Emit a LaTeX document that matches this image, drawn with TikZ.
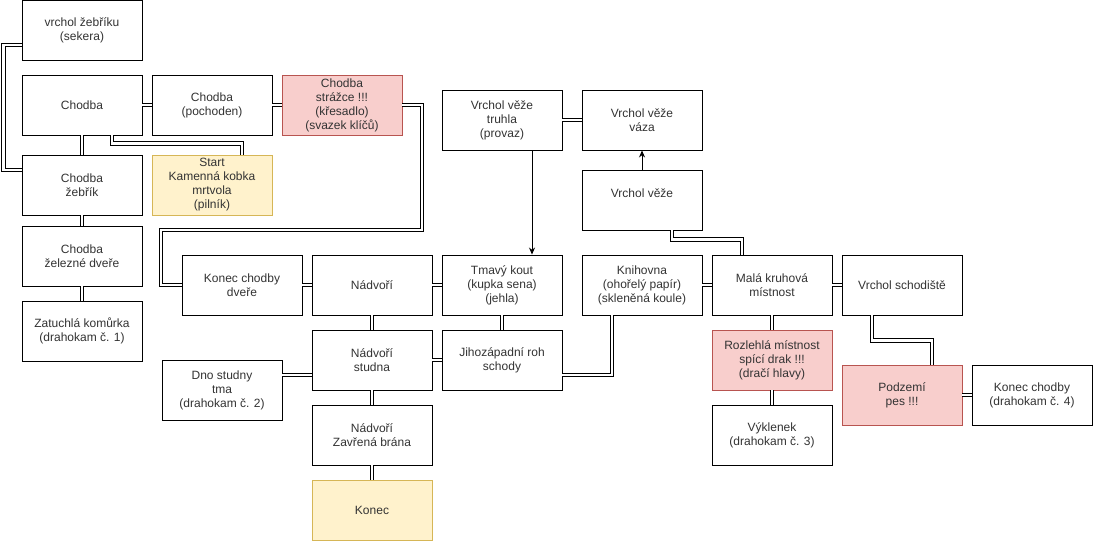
\documentclass[tikz,border=0pt]{standalone}
\usepackage{fontspec}
\setmainfont{Liberation Sans}
\usetikzlibrary{arrows.meta}
\definecolor{textgray}{HTML}{333333}
\definecolor{redfill}{HTML}{F8CECC}
\definecolor{redline}{HTML}{B85450}
\definecolor{yellowfill}{HTML}{FFF2CC}
\definecolor{yellowline}{HTML}{D6B656}

\begin{document}
\begin{tikzpicture}[x=1pt,y=-1pt,
	room/.style={draw, fill=white, line width=0.9pt, minimum width=120pt, minimum height=60pt,
		inner sep=0pt, align=center, text=textgray, font=\fontsize{12}{14}\selectfont},
	danger/.style={room, fill=redfill, draw=redline},
	special/.style={room, fill=yellowfill, draw=yellowline},
	link/.style={double, double distance=2.6pt, line width=0.9pt},
	oneway/.style={line width=0.9pt, -{Stealth[length=7pt,width=6pt]}}]
	\useasboundingbox (0,0) rectangle (1093,541);

	% levy sloupec
	\node[room] (vrchol) at (82,30) {vrchol žebříku\\(sekera)};
	\node[room] (chodba) at (82,105) {Chodba};
	\node[room] (zebrik) at (82,185) {Chodba\\žebřík};
	\node[room] (dvere) at (82,256) {Chodba\\železné dveře};
	\node[room] (komurka) at (82,331) {Zatuchlá komůrka\\(drahokam č. 1)};
	\node[room] (pochoden) at (212,105) {Chodba\\(pochoden)};
	\node[danger] (strazce) at (342,105) {Chodba\\strážce !!!\\(křesadlo)\\(svazek klíčů)};
	\node[special] (start) at (212,185) {Start\\Kamenná kobka\\mrtvola\\(pilník)};

	% nadvori
	\node[room] (konecdvere) at (242,285) {Konec chodby\\dveře};
	\node[room] (nadvori) at (372,285) {Nádvoří};
	\node[room] (studna) at (372,360) {Nádvoří\\studna};
	\node[room] (dno) at (222,390) {Dno studny\\tma\\(drahokam č. 2)};
	\node[room] (brana) at (372,435) {Nádvoří\\Zavřená brána};
	\node[special] (konec) at (372,510) {Konec};
	\node[room] (kout) at (502,285) {Tmavý kout\\(kupka sena)\\(jehla)};
	\node[room] (roh) at (502,360) {Jihozápadní roh\\schody};

	% vez
	\node[room] (truhla) at (502,120) {Vrchol věže\\truhla\\(provaz)};
	\node[room] (vaza) at (642,120) {Vrchol věže\\váza};
	\node[room] (vez) at (642,200) {Vrchol věže\\\mbox{}};
	\node[room] (knihovna) at (642,285) {Knihovna\\(ohořelý papír)\\(skleněná koule)};
	\node[room] (mala) at (772,285) {Malá kruhová\\místnost};
	\node[room] (schodiste) at (902,285) {Vrchol schodiště};
	\node[danger] (drak) at (772,360) {Rozlehlá místnost\\spící drak !!!\\(dračí hlavy)};
	\node[room] (vyklenek) at (772,435) {Výklenek\\(drahokam č. 3)};
	\node[danger] (podzemi) at (902,395) {Podzemí\\pes !!!};
	\node[room] (konec4) at (1032,395) {Konec chodby\\(drahokam č. 4)};

	\draw[link] ([yshift=-15pt]vrchol.west) -- ++(-18,0) |- ([yshift=15pt]zebrik.west);
	\draw[link] (chodba) -- (pochoden);
	\draw[link] (pochoden) -- (strazce);
	\draw[link] (chodba) -- (zebrik);
	\draw[link] ([xshift=30pt]chodba.south) -- ++(0,8) -| ([xshift=30pt]start.north);
	\draw[link] (zebrik) -- (dvere);
	\draw[link] (dvere) -- (komurka);
	\draw[link] (strazce.east) -| (422,230) -| (161,285) -- (konecdvere.west);

	\draw[link] (konecdvere) -- (nadvori);
	\draw[link] (nadvori) -- (kout);
	\draw[link] (nadvori) -- (studna);
	\draw[link] ([yshift=-15pt]studna.west) -- ([yshift=-15pt]studna.west -| dno.east);
	\draw[link] (studna) -- (brana);
	\draw[link] (brana) -- (konec);
	\draw[link] (studna) -- (roh);
	\draw[link] (kout) -- (roh);
	\draw[link] ([yshift=-15pt]roh.east) -| ([xshift=-30pt]knihovna.south);

	\draw[link] (truhla) -- (vaza);
	\draw[oneway] ([xshift=30pt]truhla.south) -- ([xshift=30pt]kout.north);
	\draw[oneway] (vez) -- (vaza);
	\draw[link] ([xshift=30pt]vez.south) -- ++(0,9) -| ([xshift=-30pt]mala.north);
	\draw[link] (knihovna) -- (mala);
	\draw[link] (mala) -- (schodiste);
	\draw[link] (mala) -- (drak);
	\draw[link] (drak) -- (vyklenek);
	\draw[link] ([xshift=-30pt]schodiste.south) -- ++(0,25) -| ([xshift=30pt]podzemi.north);
	\draw[link] (podzemi) -- (konec4);
\end{tikzpicture}
\end{document}
